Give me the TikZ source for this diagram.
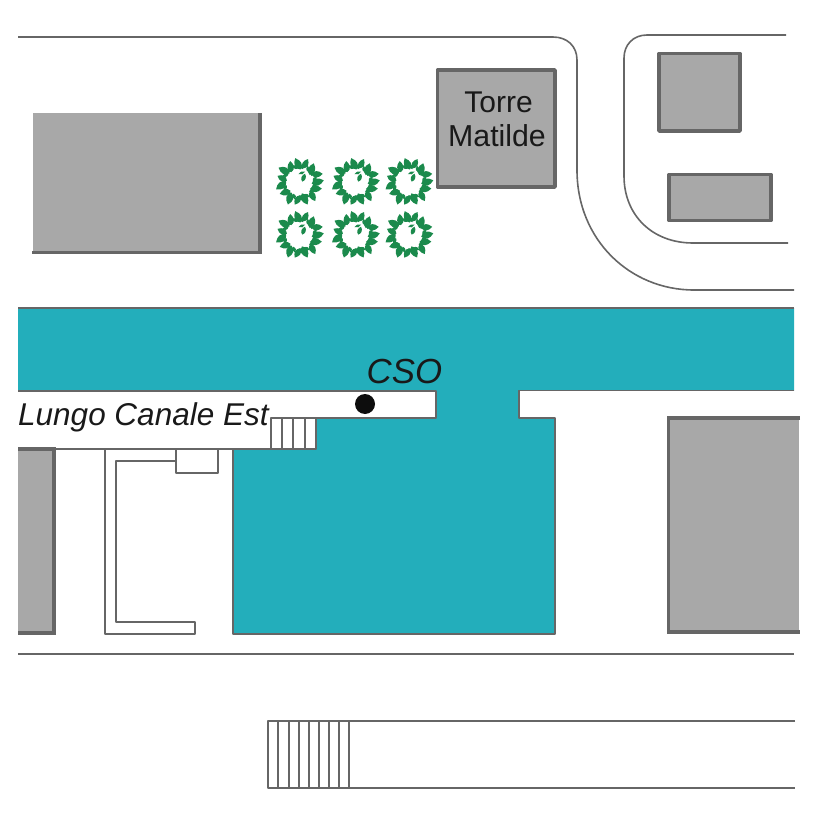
\documentclass[tikz,border=0pt]{standalone}
\usepackage{fontspec}
\setmainfont{Liberation Sans}
\definecolor{water}{HTML}{23AEBB}
\definecolor{bldg}{HTML}{A8A8A8}
\definecolor{edge}{HTML}{666666}
\definecolor{leafc}{HTML}{1B8A4C}
\tikzset{
  road/.style={draw=edge,line width=1.6pt},
  thin wall/.style={draw=edge,line width=1.9pt,line join=round},
  heavy/.style={draw=edge,line width=3.8pt},
  boxb/.style={fill=bldg,draw=edge,line width=3.8pt,line join=round},
  lbl/.style={inner sep=0pt,text=black!90,anchor=base west},
  leafp/.style={fill=leafc,draw=none},
  tree/.pic={
    \foreach \a/\r/\t/\s in {0/18/15/1,24/19/-20/.9,46/17.5/25/1,72/19/-10/.85,95/18/20/1,120/17.5/-25/.9,143/19/10/1,168/17.5/-15/.85,191/18.5/25/1,216/17.5/-20/.9,239/19/15/1,264/18/-25/.85,287/17.5/10/1,313/19/-15/.9,337/17.5/25/.95}{
      \fill[leafp,rotate=\a,shift={(\r,0)},rotate=\t,scale=\s]
        (-6,0) .. controls (-3,-5) and (2,-4.5) .. (6.5,0)
        .. controls (2,4.5) and (-3,5) .. (-6,0) -- cycle;
      \fill[leafp,rotate=\a+11,shift={(15.5,0)},rotate=40,scale=.5]
        (-6,0) .. controls (-2,-5) and (3,-4) .. (7,0)
        .. controls (3,4) and (-2,5) .. (-6,0) -- cycle;
    }
    \fill[leafp,shift={(4,4)},rotate=70,scale=.65]
      (-6,0) .. controls (-2,-5) and (3,-4) .. (7,0)
      .. controls (3,4) and (-2,5) .. (-6,0) -- cycle;
    \fill[leafp,shift={(2,9)},rotate=20,scale=.55]
      (-6,0) .. controls (-2,-4) and (3,-3) .. (7,0)
      .. controls (3,3) and (-2,4) .. (-6,0) -- cycle;
  }
}
\begin{document}
\begin{tikzpicture}[x=1pt,y=-1pt]
\useasboundingbox (0,0) rectangle (826,826);
% roads
\draw[road] (18,37) -- (553,37) .. controls (567,37) and (577,46) .. (577,60) -- (577,170)
  .. controls (577,240) and (630,290) .. (694,290) -- (794,290);
\draw[road] (786,35) -- (647,35) .. controls (633,35) and (624,45) .. (624,58) -- (624,176)
  .. controls (624,215) and (652,243) .. (693,243) -- (788,243);
\draw[road] (18,654) -- (794,654);
% water
\path[fill=water] (18,308) -- (794,308) -- (794,390.5) -- (519,390.5) -- (519,418) -- (555,418)
  -- (555,634) -- (233,634) -- (233,449) -- (316,449) -- (316,418) -- (436,418) -- (436,391) -- (18,391) -- cycle;
\draw[road,line width=1.9pt] (18,308) -- (794,308);
\draw[thin wall] (794,390.5) -- (519,390.5) -- (519,418) -- (555,418) -- (555,634) -- (233,634) -- (233,449);
\draw[thin wall] (18,391) -- (436,391) -- (436,418) -- (271,418) -- (271,449);
% embankment lines and steps
\draw[thin wall] (55,449) -- (316,449) -- (316,418);
\foreach \x in {282,293,305}{\draw[thin wall] (\x,418) -- (\x,449);}
% L-shaped wall
\draw[thin wall] (105,449) -- (105,634) -- (195,634) -- (195,622) -- (116,622) -- (116,461) -- (176,461);
\draw[thin wall] (176,449) -- (176,473) -- (218,473) -- (218,449);
% lower steps
\draw[thin wall] (795,721) -- (268,721) -- (268,788) -- (795,788);
\foreach \x in {278,289,299,309,319,329,339,349}{\draw[thin wall] (\x,721) -- (\x,788);}
% buildings
\fill[bldg] (33,113) rectangle (260,252);
\draw[heavy] (260,113) -- (260,252.5) -- (32,252.5);
\draw[boxb] (437.5,70) rectangle (555,187);
\draw[boxb] (659,53.5) rectangle (740,131);
\draw[boxb] (669,174.5) rectangle (771,220.5);
\fill[bldg] (18,449) rectangle (54,633);
\draw[heavy] (18,449) -- (54,449) -- (54,633) -- (18,633);
\fill[bldg] (669,418) rectangle (799,632);
\draw[heavy] (800,418) -- (668.5,418) -- (668.5,632) -- (800,632);
% trees
\foreach \n/\x/\y in {a/299.5/182,b/355.5/182,c/409/182,d/299.5/235,e/355.5/235,f/409/235}{
  \path (\x,\y) pic[y=1pt] (tree\n) {tree};
}
% marker and labels
\node[circle,fill=black!95,minimum size=20pt,inner sep=0pt] (cso dot) at (365,404) {};
\node[lbl,font=\fontsize{30pt}{30pt}\selectfont,anchor=base] (torre) at (498.5,112.5) {Torre};
\node[lbl,font=\fontsize{30.3pt}{30pt}\selectfont,anchor=base] (matilde) at (497,147) {Matilde};
\node[lbl,font=\fontsize{31.5pt}{32pt}\selectfont\itshape] (lungo) at (18,425) {Lungo Canale Est};
\node[lbl,font=\fontsize{34.8pt}{35pt}\selectfont\itshape] (cso) at (366.5,383) {CSO};
\end{tikzpicture}
\end{document}
